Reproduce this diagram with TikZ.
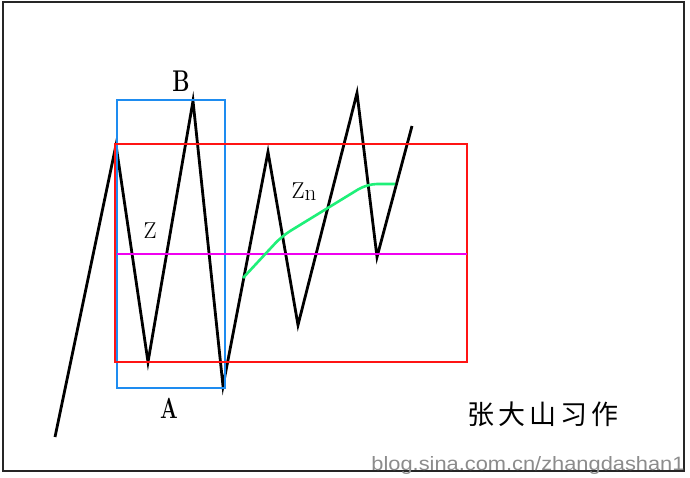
\documentclass[tikz,border=0pt]{standalone}
\usepackage{fontspec}
\usepackage{tikz}
\usetikzlibrary{positioning,calc}
\newfontfamily\cjk{Noto Sans CJK SC}
\newfontfamily\webfont{Liberation Sans}
\definecolor{boxred}{RGB}{255,20,20}
\definecolor{boxblue}{RGB}{30,140,240}
\definecolor{midline}{RGB}{240,0,240}
\definecolor{zngreen}{RGB}{30,240,120}

\begin{document}
\begin{tikzpicture}[x=1pt,y=-1pt,
    zig/.style={line width=2.8pt,line join=miter,miter limit=20},
    lbl/.style={inner sep=0pt,font=\fontsize{23}{23}\selectfont}]
\useasboundingbox (0,0) rectangle (690,477);
\fill[white] (0,0) rectangle (690,477);
\draw[line width=1.4pt,black!85] (3,2) rectangle (684,471);
% price zigzag
\foreach \n/\x/\y in {0/55/437,1/116/145,2/148/362,3/193/101,4/223/386,
                      5/268/152,6/298/325,7/357/93,8/377/257,9/412/126} {
  \coordinate (p\n) at (\x,\y);
}
\draw[zig] (p0) \foreach \n in {1,...,9} {-- (p\n)};
% boxes
\draw[boxblue,line width=1.6pt] (117,100) rectangle (225,388);
\draw[boxred,line width=1.6pt] (115,144) rectangle (467,362);
\coordinate (m0) at (117,254);
\coordinate (m1) at (467,254);
\draw[midline,line width=2.4pt] (m0) -- (m1);
% Zn curve
\coordinate (g0) at (243,278);
\coordinate (g1) at (282,236);
\coordinate (g2) at (367,184);
\coordinate (g3) at (395,184);
\draw[zngreen,line width=2.6pt,rounded corners=10pt] (g0) -- (g1) -- (g2) -- (g3);
% labels
\node[lbl,font=\bfseries\fontsize{30}{30}\selectfont] (labB) at (181,81) {\scalebox{0.72}[1]{B}};
\node[lbl,font=\bfseries\fontsize{29}{29}\selectfont] (labA) at (169,408) {\scalebox{0.72}[1]{A}};
\node[lbl] (labZ) at (150,231) {Z};
\node[lbl] (labZn) at (304,192) {Z\raisebox{-2pt}{n}};
\node[inner sep=0pt,font=\cjk\fontsize{27}{27}\selectfont] (author) at (543,414)
  {张\hspace{4pt}大\hspace{4pt}山\hspace{4pt}习\hspace{4pt}作};
\node[inner sep=0pt,anchor=base,text=black!45,font=\webfont\fontsize{18}{18}\selectfont] (mark) at (528,470)
  {\resizebox{313pt}{14pt}{blog.sina.com.cn/zhangdashan1}};
\end{tikzpicture}
\end{document}
